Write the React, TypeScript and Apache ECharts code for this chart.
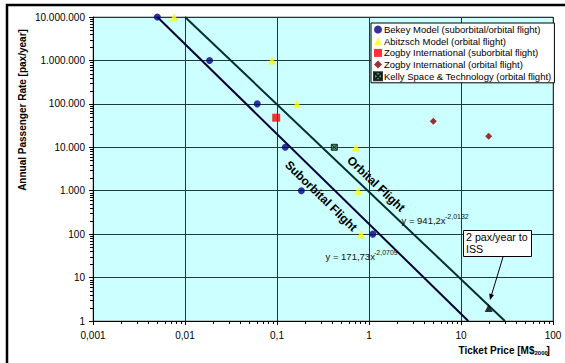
import React, { useEffect, useRef } from "react";
import * as echarts from "echarts";

// ---- data ----
const bekey: number[][] = [
  [0.005, 1e7], [0.0185, 1e6], [0.061, 1e5], [0.123, 1e4], [0.184, 1000], [1.1, 100],
];
const abitzsch: number[][] = [
  [0.0076, 1e7], [0.088, 1e6], [0.165, 1e5], [0.72, 1e4], [0.76, 1000], [0.82, 100],
];
const zogbySub: number[][] = [[0.098, 48000]];
const zogbyOrb: number[][] = [[5, 40000], [20, 18000]];
const kelly: number[][] = [[0.42, 1e4]];
const issPoint: number[][] = [[20, 2]];
const suborbitalLine: number[][] = [[0.005, 1e7], [12, 1]];
const orbitalLine: number[][] = [[0.01, 1e7], [30, 1]];

const xTickLabels = ["0,001", "0,01", "0,1", "1", "10", "100"];
const yTickLabels = ["1", "10", "100", "1.000", "10.000", "100.000", "1.000.000", "10.000.000"];
const xMinorDecades = [0.001, 0.01, 0.1, 1, 10];
const yMinorDecades = [1, 10, 100, 1000, 10000, 100000, 1000000];
const minorMultipliers = [2, 3, 4, 5, 6, 7, 8, 9];

const seriesNames = [
  "Bekey Model (suborbital/orbital flight)",
  "Abitzsch Model (orbital flight)",
  "Zogby International (suborbital flight)",
  "Zogby International (orbital flight)",
  "Kelly Space & Technology (orbital flight)",
];

const FONT = "'Liberation Sans', Arial, sans-serif";
const KELLY_ICON = "path://M0,0L10,0L10,10L0,10Z M1,1L9,9 M9,1L1,9";

export default function App() {
  const ref = useRef<HTMLDivElement>(null);
  useEffect(() => {
    if (!ref.current) return;
    const chart = echarts.init(ref.current, null, { renderer: "svg" });
    const px = (v: number) => Math.round(v) + 0.5;
    const option: any = {
      animation: false,
      backgroundColor: "#ffffff",
      textStyle: { fontFamily: FONT },
      grid: {
        left: 93,
        top: 17,
        right: 12,
        bottom: 42,
        show: true,
        backgroundColor: "#CCFFFF",
        borderColor: "#8a8a8a",
        borderWidth: 1,
      },
      legend: {
        orient: "vertical",
        left: 371,
        top: 23,
        padding: [1, 3, 1, 2],
        itemWidth: 8,
        itemHeight: 8,
        itemGap: 0.7,
        backgroundColor: "#ffffff",
        borderColor: "#000000",
        borderWidth: 1,
        borderRadius: 0,
        textStyle: { fontSize: 9.5, color: "#000", lineHeight: 11, fontFamily: FONT, padding: [0, 0, 0, -3] },
        data: [
          { name: seriesNames[0], icon: "circle" },
          { name: seriesNames[1], icon: "triangle" },
          { name: seriesNames[2], icon: "rect" },
          { name: seriesNames[3], icon: "diamond" },
          { name: seriesNames[4], icon: KELLY_ICON },
        ],
      },
      xAxis: {
        type: "log",
        logBase: 10,
        min: 0.001,
        max: 100,
        axisLine: { lineStyle: { color: "#000", width: 1 } },
        axisTick: { show: true, length: 4, lineStyle: { color: "#000" } },
        axisLabel: {
          color: "#000",
          fontSize: 10,
          margin: 9,
          fontFamily: FONT,
          formatter: (v: number) => xTickLabels[Math.round(Math.log10(v)) + 3],
        },
        splitLine: { show: true, lineStyle: { color: "#1f3a3a", width: 1 } },
      },
      yAxis: {
        type: "log",
        logBase: 10,
        min: 1,
        max: 1e7,
        axisLine: { lineStyle: { color: "#000", width: 1 } },
        axisTick: { show: true, length: 4, lineStyle: { color: "#000" } },
        axisLabel: {
          color: "#000",
          fontSize: 10,
          margin: 8,
          fontFamily: FONT,
          formatter: (v: number) => yTickLabels[Math.round(Math.log10(v))],
        },
        splitLine: { show: true, lineStyle: { color: "#1f3a3a", width: 1 } },
      },
      series: [
        {
          type: "line",
          name: "Suborbital trend",
          data: suborbitalLine,
          showSymbol: false,
          symbol: "none",
          silent: true,
          lineStyle: { color: "#000038", width: 2 },
          z: 3,
        },
        {
          type: "line",
          name: "Orbital trend",
          data: orbitalLine,
          showSymbol: false,
          symbol: "none",
          silent: true,
          lineStyle: { color: "#00302a", width: 2 },
          z: 3,
        },
        {
          type: "scatter",
          name: seriesNames[0],
          data: bekey,
          symbol: "circle",
          symbolSize: 7,
          clip: false,
          itemStyle: { color: "#000080" },
          z: 5,
        },
        {
          type: "scatter",
          name: seriesNames[1],
          data: abitzsch,
          symbol: "triangle",
          symbolSize: 8,
          clip: false,
          itemStyle: { color: "#FFFF00" },
          z: 5,
        },
        {
          type: "scatter",
          name: seriesNames[2],
          data: zogbySub,
          symbol: "rect",
          symbolSize: 8,
          clip: false,
          itemStyle: { color: "#FF0000" },
          z: 5,
        },
        {
          type: "scatter",
          name: seriesNames[3],
          data: zogbyOrb,
          symbol: "diamond",
          symbolSize: 7,
          clip: false,
          itemStyle: { color: "#800000" },
          z: 5,
        },
        {
          type: "scatter",
          name: seriesNames[4],
          data: kelly,
          symbol: KELLY_ICON,
          symbolSize: 6,
          clip: false,
          itemStyle: { color: "#2E8B57", borderColor: "#000", borderWidth: 1 },
          z: 5,
        },
        {
          type: "scatter",
          name: "ISS",
          data: issPoint,
          symbol: "triangle",
          symbolSize: 8,
          clip: false,
          itemStyle: { color: "#000" },
          z: 5,
        },
        {
          type: "custom",
          name: "xMinor",
          silent: true,
          clip: false,
          data: xMinorDecades.map((d) => [d, 1]),
          renderItem: (params: any, api: any) => {
            const d = api.value(0);
            return {
              type: "group",
              children: minorMultipliers.map((m) => {
                const p = api.coord([d * m, 1]);
                return {
                  type: "line",
                  shape: { x1: px(p[0]), y1: p[1], x2: px(p[0]), y2: p[1] + 3 },
                  style: { stroke: "#000", lineWidth: 1 },
                };
              }),
            };
          },
          z: 6,
        },
        {
          type: "custom",
          name: "yMinor",
          silent: true,
          clip: false,
          data: yMinorDecades.map((d) => [0.001, d]),
          renderItem: (params: any, api: any) => {
            const d = api.value(1);
            return {
              type: "group",
              children: minorMultipliers.map((m) => {
                const p = api.coord([0.001, d * m]);
                return {
                  type: "line",
                  shape: { x1: p[0] - 3, y1: px(p[1]), x2: p[0], y2: px(p[1]) },
                  style: { stroke: "#000", lineWidth: 1 },
                };
              }),
            };
          },
          z: 6,
        },
      ],
      graphic: [
        {
          type: "rect",
          shape: { x: 7, y: 5, width: 700, height: 500 },
          style: { fill: "none", stroke: "#000", lineWidth: 2.5 },
          silent: true,
          z: 100,
        },
        {
          type: "text",
          x: 22,
          y: 110,
          rotation: Math.PI / 2,
          style: {
            text: "Annual Passenger Rate [pax/year]",
            fontSize: 10,
            fontWeight: "bold",
            fontFamily: FONT,
            fill: "#000",
            align: "center",
            verticalAlign: "middle",
          },
        },
        {
          type: "text",
          x: 534.5,
          y: 350,
          style: {
            text: "Ticket Price [M$",
            fontSize: 10,
            fontWeight: "bold",
            fontFamily: FONT,
            fill: "#000",
            align: "right",
            verticalAlign: "middle",
          },
        },
        {
          type: "text",
          x: 534.5,
          y: 352.5,
          style: {
            text: "2000",
            fontSize: 6,
            fontWeight: "bold",
            fontFamily: FONT,
            fill: "#000",
            align: "left",
            verticalAlign: "middle",
          },
        },
        {
          type: "text",
          x: 546.5,
          y: 350,
          style: {
            text: "]",
            fontSize: 10,
            fontWeight: "bold",
            fontFamily: FONT,
            fill: "#000",
            align: "left",
            verticalAlign: "middle",
          },
        },
        {
          type: "text",
          x: 376,
          y: 184,
          rotation: -0.76,
          z: 20,
          style: {
            text: "Orbital Flight",
            fontSize: 12,
            fontWeight: "bold",
            fontFamily: FONT,
            fill: "#000",
            align: "center",
            verticalAlign: "middle",
          },
        },
        {
          type: "text",
          x: 321,
          y: 196,
          rotation: -0.773,
          z: 20,
          style: {
            text: "Suborbital Flight",
            fontSize: 12,
            fontWeight: "bold",
            fontFamily: FONT,
            fill: "#000",
            align: "center",
            verticalAlign: "middle",
          },
        },
        {
          type: "text",
          x: 401.5,
          y: 220,
          z: 20,
          style: { text: "y = 941,2x", fontSize: 9.5, fontFamily: FONT, fill: "#111", align: "left", verticalAlign: "middle" },
        },
        {
          type: "text",
          x: 445,
          y: 216,
          z: 20,
          style: { text: "-2,0132", fontSize: 7, fontFamily: FONT, fill: "#111", align: "left", verticalAlign: "middle" },
        },
        {
          type: "text",
          x: 325.5,
          y: 256.5,
          z: 20,
          style: { text: "y = 171,73x", fontSize: 9.5, fontFamily: FONT, fill: "#111", align: "left", verticalAlign: "middle" },
        },
        {
          type: "text",
          x: 374,
          y: 252.5,
          z: 20,
          style: { text: "-2,0709", fontSize: 7, fontFamily: FONT, fill: "#111", align: "left", verticalAlign: "middle" },
        },
        {
          type: "rect",
          z: 20,
          shape: { x: 463.5, y: 230.5, width: 68, height: 26 },
          style: { fill: "#fff", stroke: "#000", lineWidth: 1 },
        },
        {
          type: "text",
          x: 466,
          y: 231,
          z: 21,
          style: {
            text: "2 pax/year to\nISS",
            fontSize: 10.7,
            lineHeight: 12,
            fontFamily: FONT,
            fill: "#000",
            align: "left",
            verticalAlign: "top",
          },
        },
        {
          type: "line",
          z: 20,
          shape: { x1: 503, y1: 257, x2: 491.2, y2: 296 },
          style: { stroke: "#000", lineWidth: 1 },
        },
        {
          type: "polygon",
          z: 20,
          shape: { points: [[490, 300], [494, 294.9], [489.2, 293.5]] },
          style: { fill: "#000" },
        },
      ],
    };
    chart.setOption(option);
    return () => chart.dispose();
  }, []);
  return (
    <div
      ref={ref}
      style={{ position: "absolute", left: 0, top: 0, width: 565, height: 363 }}
    />
  );
}
